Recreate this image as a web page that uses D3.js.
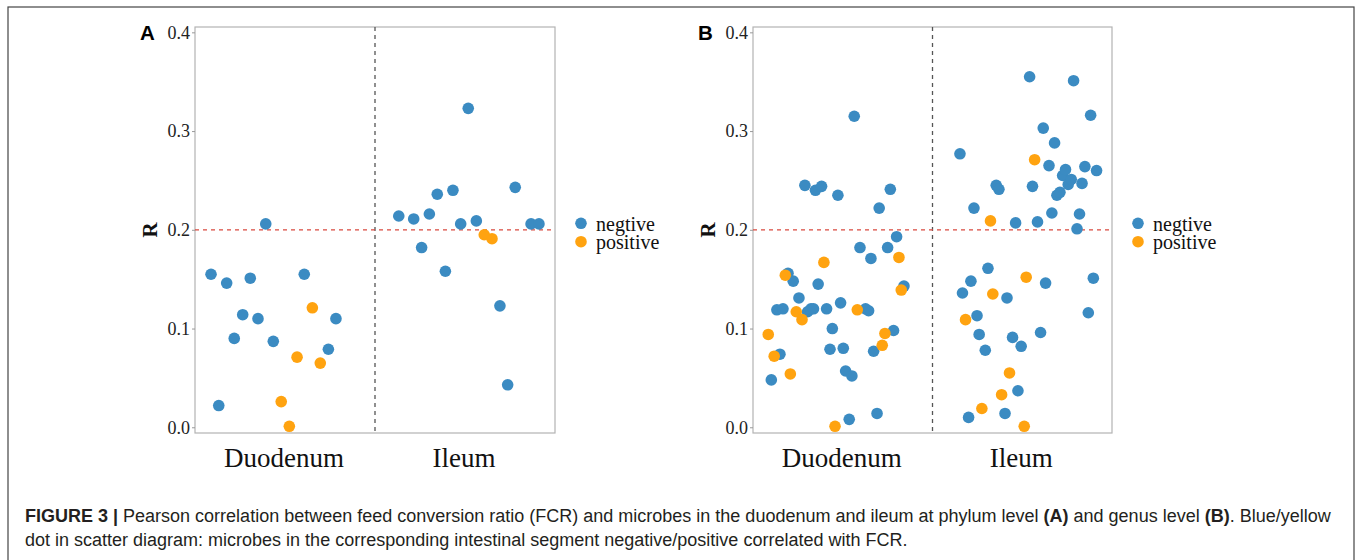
<!DOCTYPE html>
<html>
<head>
<meta charset="utf-8">
<script src="https://cdn.jsdelivr.net/npm/d3@7"></script>
<style>
  html, body { margin: 0; padding: 0; background: #fff; }
  svg { display: block; }
</style>
</head>
<body>
<svg id="chart" width="1357" height="560"></svg>
<script>
// ---------------- DATA ----------------
const categories = ["Duodenum", "Ileum"];
const yTickValues = [0.0, 0.1, 0.2, 0.3, 0.4];
const thresholdR = 0.2;
const legendLabels = ["negtive", "positive"];
const panelLabels = ["A", "B"];

// Panel A (phylum level): x = jittered category position (1 = Duodenum, 2 = Ileum), R value
const aNegX = [0.589,0.676,0.632,0.718,0.765,0.807,0.850,0.893,0.935,1.107,1.241,1.283,
               1.632,1.715,1.759,1.802,1.846,1.891,1.933,1.976,2.018,2.063,2.194,2.237,2.279,2.367,2.411];
const aNegR = [0.155,0.146,0.022,0.090,0.114,0.151,0.110,0.206,0.087,0.155,0.079,0.110,
               0.214,0.211,0.182,0.216,0.236,0.158,0.240,0.206,0.323,0.209,0.123,0.043,0.243,0.206,0.206];
const aPosX = [0.979,1.024,1.067,1.152,1.196, 2.107,2.150];
const aPosR = [0.026,0.001,0.071,0.121,0.065, 0.195,0.191];

// Panel B (genus level)
const bNegX = [0.602,0.650,0.633,0.667,0.695,0.724,0.756,0.789,0.804,0.823,0.837,0.848,0.863,0.882,0.910,0.929,
               0.942,0.973,0.988,1.003,1.016,1.036,1.051,1.064,1.096,1.127,1.144,1.157,1.172,1.191,1.203,1.250,
               1.265,1.283,1.300,1.341,
               1.653,1.701,1.667,1.714,1.731,1.748,1.760,1.794,1.809,1.855,1.870,1.904,1.915,1.946,1.963,1.976,
               1.994,2.041,2.057,2.085,2.102,2.117,2.130,2.149,2.165,2.180,2.193,2.210,2.225,2.241,2.256,2.273,
               2.286,2.305,2.319,2.333,2.349,2.368,2.381,2.396,2.414];
const bNegR = [0.048,0.074,0.119,0.120,0.156,0.148,0.131,0.245,0.117,0.120,0.120,0.240,0.145,0.244,0.120,0.079,
               0.100,0.235,0.126,0.080,0.057,0.008,0.052,0.315,0.182,0.120,0.118,0.171,0.077,0.014,0.222,0.182,
               0.241,0.098,0.193,0.143,
               0.277,0.010,0.136,0.148,0.222,0.113,0.094,0.078,0.161,0.245,0.241,0.014,0.131,0.091,0.207,0.037,
               0.082,0.355,0.244,0.208,0.096,0.303,0.146,0.265,0.217,0.288,0.235,0.238,0.255,0.261,0.246,0.251,
               0.351,0.201,0.216,0.247,0.264,0.116,0.316,0.151,0.260];
const bPosX = [0.585,0.618,0.680,0.708,0.741,0.773,0.895,0.957,1.081,1.220,1.235,1.313,1.326,
               1.684,1.775,1.823,1.836,1.885,1.929,2.011,2.022,2.069];
const bPosR = [0.094,0.072,0.154,0.054,0.117,0.109,0.167,0.001,0.119,0.083,0.095,0.172,0.139,
               0.109,0.019,0.209,0.135,0.033,0.055,0.001,0.152,0.271];

// ---------------- STYLE ----------------
const colNeg = "#3b8bc2";
const colPos = "#ffa310";
const serif = "'Liberation Serif', 'Times New Roman', serif";
const sans = "'Liberation Sans', Arial, sans-serif";

const svg = d3.select("#chart");

// outer figure frame
svg.append("rect").attr("x", 8).attr("y", 7).attr("width", 1346).attr("height", 570)
  .attr("fill", "none").attr("stroke", "#444").attr("stroke-width", 1.2);

const panels = [
  { label: panelLabels[0], left: 195, right: 555, negX: aNegX, negR: aNegR, posX: aPosX, posR: aPosR },
  { label: panelLabels[1], left: 753, right: 1112, negX: bNegX, negR: bNegR, posX: bPosX, posR: bPosR }
];
const plotTop = 27, plotBottom = 433;

panels.forEach(p => {
  const g = svg.append("g");
  const x = d3.scaleLinear().domain([0.5, 2.5]).range([p.left, p.right]);
  const y = d3.scaleLinear().domain([-0.0058, 0.4054]).range([plotBottom, plotTop]);

  // panel border
  g.append("rect").attr("x", p.left).attr("y", plotTop)
    .attr("width", p.right - p.left).attr("height", plotBottom - plotTop)
    .attr("fill", "none").attr("stroke", "#b3b3b3").attr("stroke-width", 1.2);

  // y axis
  const ax = g.append("g").attr("transform", `translate(${p.left},0)`)
    .call(d3.axisLeft(y).tickValues(yTickValues).tickFormat(d3.format(".1f")).tickSize(3).tickPadding(2));
  ax.select(".domain").remove();
  ax.selectAll(".tick line").attr("stroke", "#999");
  ax.selectAll(".tick text").attr("font-family", serif).attr("font-size", 18).attr("fill", "#222");

  // y title
  g.append("text").attr("transform", `translate(${p.left - 38},${y(thresholdR)}) rotate(-90)`)
    .attr("text-anchor", "middle").attr("font-family", serif).attr("font-weight", "bold")
    .attr("font-size", 21).attr("fill", "#111").text("R");

  // panel letter
  g.append("text").attr("x", p.left - 55).attr("y", 40)
    .attr("font-family", sans).attr("font-weight", "bold").attr("font-size", 20.5).attr("fill", "#000")
    .text(p.label);

  // category labels
  categories.forEach((c, i) => {
    g.append("text").attr("x", x(i + 1) - 1).attr("y", 467).attr("text-anchor", "middle")
      .attr("font-family", serif).attr("font-size", 27).attr("fill", "#111").text(c);
  });

  // vertical separator between categories
  g.append("line").attr("x1", x(1.5)).attr("x2", x(1.5)).attr("y1", plotTop).attr("y2", plotBottom)
    .attr("stroke", "#555").attr("stroke-width", 1.3).attr("stroke-dasharray", "4,4");

  // threshold line
  g.append("line").attr("x1", p.left).attr("x2", p.right).attr("y1", y(thresholdR)).attr("y2", y(thresholdR))
    .attr("stroke", "#d9493f").attr("stroke-width", 1.3).attr("stroke-dasharray", "4,4");

  // points
  const neg = p.negX.map((v, i) => ({ x: v, r: p.negR[i] }));
  const pos = p.posX.map((v, i) => ({ x: v, r: p.posR[i] }));
  g.selectAll(".neg").data(neg).enter().append("circle")
    .attr("cx", d => x(d.x)).attr("cy", d => y(d.r)).attr("r", 5.8).attr("fill", colNeg);
  g.selectAll(".pos").data(pos).enter().append("circle")
    .attr("cx", d => x(d.x)).attr("cy", d => y(d.r)).attr("r", 5.8).attr("fill", colPos);

  // legend
  const lg = g.append("g").attr("transform", `translate(${p.right + 26},0)`);
  [colNeg, colPos].forEach((c, i) => {
    lg.append("circle").attr("cx", 0).attr("cy", 223.3 + i * 18.4).attr("r", 5.8).attr("fill", c);
    lg.append("text").attr("x", 15).attr("y", 230.5 + i * 18.4)
      .attr("font-family", serif).attr("font-size", 20).attr("fill", "#111").text(legendLabels[i]);
  });
});

// caption
const cap1 = svg.append("text").attr("x", 25).attr("y", 522).attr("font-family", sans)
  .attr("font-size", 18).attr("fill", "#231f20");
cap1.append("tspan").attr("font-weight", "bold").text("FIGURE 3 | ");
cap1.append("tspan").text("Pearson correlation between feed conversion ratio (FCR) and microbes in the duodenum and ileum at phylum level ");
cap1.append("tspan").attr("font-weight", "bold").text("(A)");
cap1.append("tspan").text(" and genus level ");
cap1.append("tspan").attr("font-weight", "bold").text("(B)");
cap1.append("tspan").text(". Blue/yellow");

svg.append("text").attr("x", 25).attr("y", 546).attr("font-family", sans)
  .attr("font-size", 18).attr("fill", "#231f20")
  .text("dot in scatter diagram: microbes in the corresponding intestinal segment negative/positive correlated with FCR.");
</script>
</body>
</html>
